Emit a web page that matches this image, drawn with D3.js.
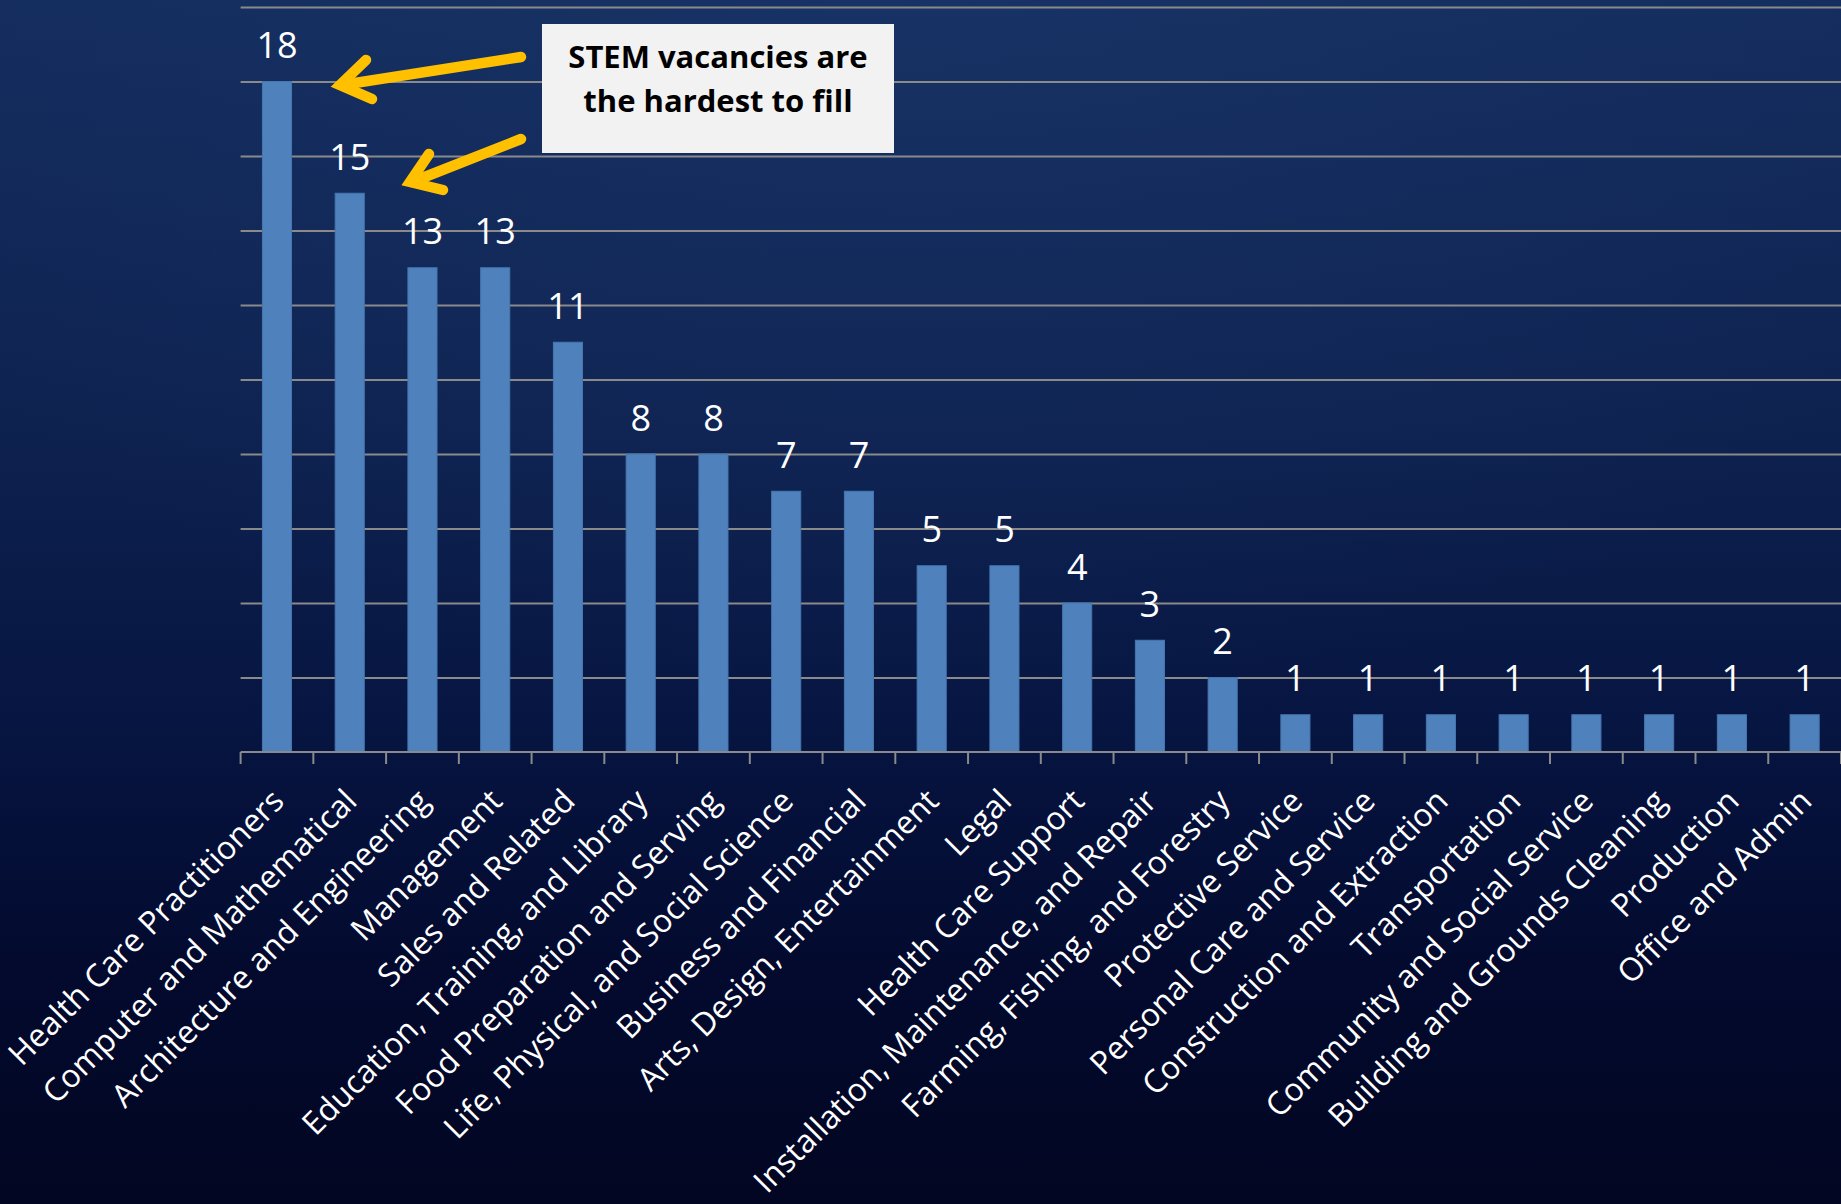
<!DOCTYPE html>
<html>
<head>
<meta charset="utf-8">
<script src="https://cdn.jsdelivr.net/npm/d3@7"></script>
<style>
  html, body { margin: 0; padding: 0; background: #020724; overflow: hidden; }
  svg { display: block; }
</style>
</head>
<body>
<svg id="chart" width="1841" height="1204"></svg>
<script>
const categories = [
  "Health Care Practitioners",
  "Computer and Mathematical",
  "Architecture and Engineering",
  "Management",
  "Sales and Related",
  "Education, Training, and Library",
  "Food Preparation and Serving",
  "Life, Physical, and Social Science",
  "Business and Financial",
  "Arts, Design, Entertainment",
  "Legal",
  "Health Care Support",
  "Installation, Maintenance, and Repair",
  "Farming, Fishing, and Forestry",
  "Protective Service",
  "Personal Care and Service",
  "Construction and Extraction",
  "Transportation",
  "Community and Social Service",
  "Building and Grounds Cleaning",
  "Production",
  "Office and Admin"
];
const values = [18, 15, 13, 13, 11, 8, 8, 7, 7, 5, 5, 4, 3, 2, 1, 1, 1, 1, 1, 1, 1, 1];
const yTicks = [0, 2, 4, 6, 8, 10, 12, 14, 16, 18, 20];
const calloutLines = ["STEM vacancies are", "the hardest to fill"];

const W = 1841, H = 1204;
const svg = d3.select("#chart");

// background gradient
const defs = svg.append("defs");
const lg = defs.append("linearGradient").attr("id", "bg").attr("x1", 0).attr("y1", 0).attr("x2", 0).attr("y2", 1);
[[0, "#142d5e"], [0.35, "#0e2250"], [0.62, "#061440"], [0.8, "#030a2e"], [1, "#020622"]]
  .forEach(([o, c]) => lg.append("stop").attr("offset", o).attr("stop-color", c));
const rg = defs.append("radialGradient").attr("id", "glow")
  .attr("cx", 0.5).attr("cy", 0).attr("r", 0.6);
rg.append("stop").attr("offset", 0).attr("stop-color", "#1e3c72").attr("stop-opacity", 0.35);
rg.append("stop").attr("offset", 1).attr("stop-color", "#1e3c72").attr("stop-opacity", 0);

svg.append("rect").attr("width", W).attr("height", H).attr("fill", "url(#bg)");
svg.append("rect").attr("width", W).attr("height", H).attr("fill", "url(#glow)");

const x0 = 240.6, x1 = 1841, yBase = 752, yTop = 7;
const x = d3.scaleBand().domain(categories).range([x0, x1]).paddingInner(0.6).paddingOuter(0.3);
const y = d3.scaleLinear().domain([0, 20]).range([yBase, yTop]);

// gridlines
const grid = svg.append("g").attr("transform", `translate(${x0},0)`)
  .call(d3.axisLeft(y).tickValues(yTicks.filter(v => v > 0)).tickSize(-(x1 - x0)).tickFormat(""));
grid.select(".domain").remove();
grid.selectAll(".tick line").attr("stroke", "#8a8a8a").attr("stroke-width", 2);

// bars
svg.append("g").selectAll("rect").data(values).join("rect")
  .attr("x", (d, i) => x(categories[i]))
  .attr("y", d => y(d))
  .attr("width", x.bandwidth())
  .attr("height", d => y(0) - y(d))
  .attr("fill", "#4f81bd")
  .attr("stroke", "#4677b0")
  .attr("stroke-width", 1);

// baseline axis
svg.append("line").attr("x1", x0).attr("x2", x1).attr("y1", y(0)).attr("y2", y(0))
  .attr("stroke", "#8a8a8a").attr("stroke-width", 2);
// boundary ticks
const boundaries = d3.range(categories.length + 1).map(i => x0 + i * x.step());
svg.append("g").selectAll("line").data(boundaries).join("line")
  .attr("x1", d => d).attr("x2", d => d)
  .attr("y1", y(0)).attr("y2", y(0) + 12)
  .attr("stroke", "#8a8a8a").attr("stroke-width", 2);

// category labels
const xa = svg.append("g").attr("transform", `translate(0,${yBase})`)
  .call(d3.axisBottom(x).tickSize(0).tickPadding(0));
xa.select(".domain").remove();
xa.selectAll(".tick text")
  .attr("x", 0).attr("y", 0).attr("dy", "0.35em")
  .attr("text-anchor", "end")
  .attr("transform", "translate(1,43) rotate(-45)")
  .attr("fill", "#ffffff")
  .style("font-family", "'Open Sans', sans-serif")
  .style("font-size", "32px");

// value labels
svg.append("g").selectAll("text").data(values).join("text")
  .attr("x", (d, i) => x(categories[i]) + x.bandwidth() / 2)
  .attr("y", d => y(d) - 23.5)
  .attr("text-anchor", "middle")
  .attr("fill", "#ffffff")
  .style("font-family", "'Open Sans', sans-serif")
  .style("font-size", "36px")
  .text(d => d);

// arrows
const arrows = svg.append("g").attr("fill", "none").attr("stroke", "#ffc000").attr("stroke-width", 10.5)
  .attr("stroke-linecap", "round").attr("stroke-linejoin", "miter");
arrows.append("path").attr("d", "M521,57 L342,85");
arrows.append("path").attr("d", "M366,60 L340,85 L372,99");
arrows.append("path").attr("d", "M521,139 L412,182");
arrows.append("path").attr("d", "M429,154 L410,182 L443,190");

// callout box
svg.append("rect").attr("x", 542).attr("y", 24).attr("width", 352).attr("height", 129)
  .attr("fill", "#f2f2f2");
svg.append("g").selectAll("text").data(calloutLines).join("text")
  .attr("x", 718).attr("y", (d, i) => 68.3 + i * 43.4)
  .attr("text-anchor", "middle")
  .attr("fill", "#000000")
  .style("font-family", "'Open Sans', sans-serif")
  .style("font-weight", "bold")
  .style("font-size", "31px")
  .text(d => d);
</script>
</body>
</html>
